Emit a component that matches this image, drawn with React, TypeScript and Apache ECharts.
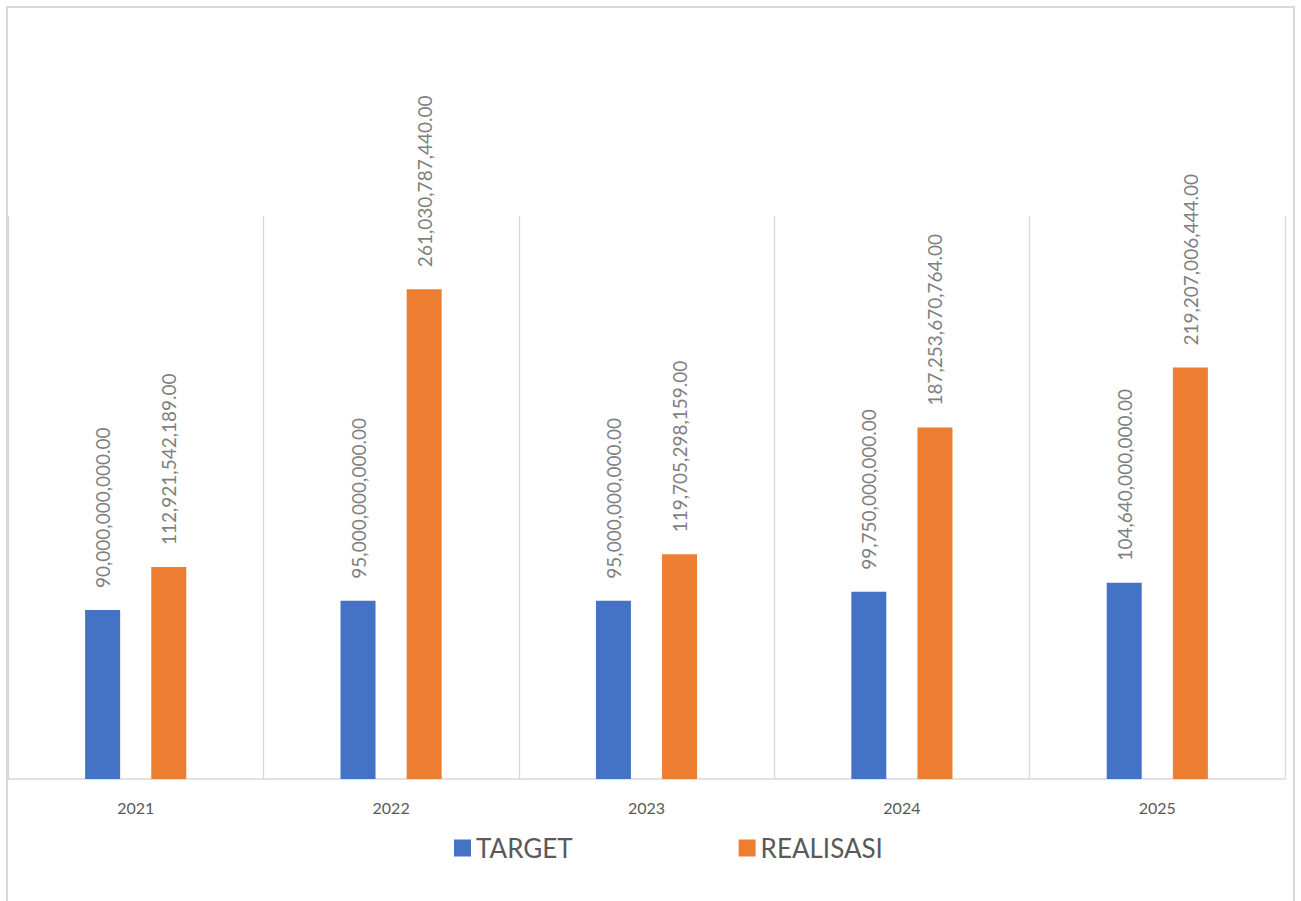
import React, { useEffect, useRef } from "react";
import * as echarts from "echarts";

const categories = ["2021", "2022", "2023", "2024", "2025"];
const targetValues = [90000000000, 95000000000, 95000000000, 99750000000, 104640000000];
const realisasiValues = [112921542189, 261030787440, 119705298159, 187253670764, 219207006444];
const seriesNames = ["TARGET", "REALISASI"];

const fmt = (v: number) =>
  v.toLocaleString("en-US", { minimumFractionDigits: 2, maximumFractionDigits: 2 });

export default function App() {
  const ref = useRef<HTMLDivElement>(null);
  useEffect(() => {
    if (!ref.current) return;
    const chart = echarts.init(ref.current, null, { renderer: "svg" });
    const labelCfg = {
      show: true,
      position: "top",
      rotate: 90,
      align: "left",
      verticalAlign: "middle",
      distance: 22,
      color: "#7f7f7f",
      fontFamily: "Lato",
      fontSize: 19,
      formatter: (p: any) => fmt(p.value),
    };
    chart.setOption({
      animation: false,
      backgroundColor: "#ffffff",
      graphic: [
        {
          type: "rect",
          shape: { x: 7, y: 7, width: 1287, height: 1000 },
          style: { fill: "none", stroke: "#d9d9d9", lineWidth: 2 },
          silent: true,
        },
      ],
      grid: { left: 8, right: 16, top: 216, bottom: 122, containLabel: false },
      legend: {
        data: seriesNames,
        left: 449,
        top: 830,
        itemWidth: 17,
        itemHeight: 17,
        itemGap: 166,
        icon: "rect",
        textStyle: { color: "#595959", fontFamily: "Lato", fontSize: 26 },
      },
      xAxis: {
        type: "category",
        data: categories,
        boundaryGap: true,
        axisTick: { show: false },
        axisLine: { show: true, lineStyle: { color: "#d9d9d9", width: 1.5 } },
        splitLine: { show: true, lineStyle: { color: "#d9d9d9", width: 1.3 } },
        axisLabel: {
          color: "#595959",
          fontFamily: "Lato",
          fontSize: 16,
          margin: 20,
        },
      },
      yAxis: {
        type: "value",
        min: 0,
        max: 300000000000,
        show: false,
        splitLine: { show: false },
      },
      series: [
        {
          name: seriesNames[0],
          type: "bar",
          data: targetValues,
          barWidth: 35,
          barGap: "89%",
          itemStyle: { color: "#4472C4" },
          label: labelCfg,
        },
        {
          name: seriesNames[1],
          type: "bar",
          data: realisasiValues,
          barWidth: 35,
          barGap: "89%",
          itemStyle: { color: "#ED7D31" },
          label: labelCfg,
        },
      ],
    });
    return () => chart.dispose();
  }, []);
  return (
    <div
      ref={ref}
      style={{ position: "absolute", left: 0, top: 0, width: 1301, height: 901 }}
    />
  );
}
